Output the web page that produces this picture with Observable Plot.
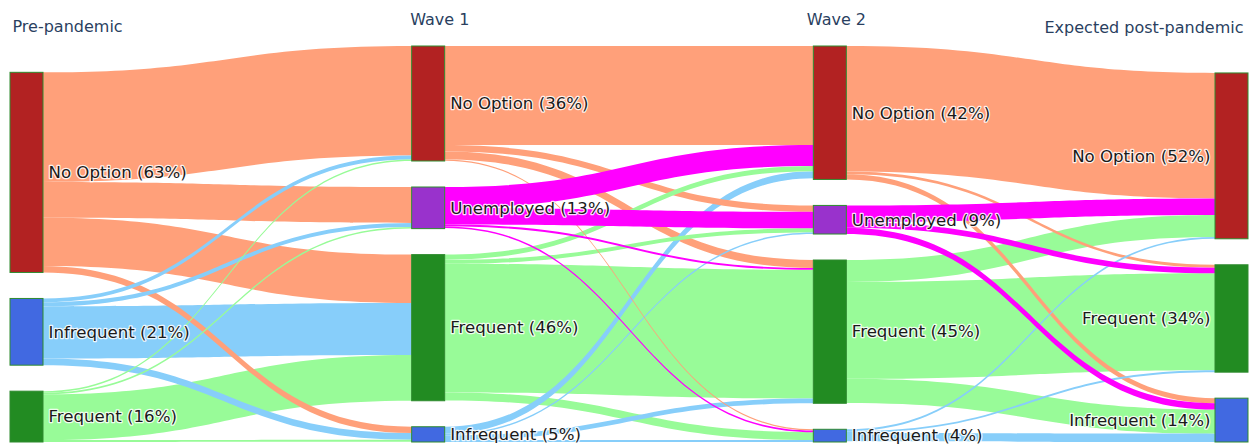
<!DOCTYPE html>
<html><head><meta charset="utf-8">
<script src="https://cdn.jsdelivr.net/npm/d3@7"></script>
<script src="https://cdn.jsdelivr.net/npm/@observablehq/plot@0.6"></script>
<style>body{margin:0;background:#fff;} svg{display:block}</style>
</head><body><div id="chart"></div>
<script>
// ---- data ----
const stages = ["Pre-pandemic", "Wave 1", "Wave 2", "Expected post-pandemic"];
const nodeStage = [0, 0, 0, 1, 1, 1, 1, 2, 2, 2, 2, 3, 3, 3];
const nodeCategory = ["No Option", "Infrequent", "Frequent",
  "No Option", "Unemployed", "Frequent", "Infrequent",
  "No Option", "Unemployed", "Frequent", "Infrequent",
  "No Option", "Frequent", "Infrequent"];
const nodePercent = [63, 21, 16, 36, 13, 46, 5, 42, 9, 45, 4, 52, 34, 14];

const linkSource = [0, 0, 0, 0, 1, 1, 1, 1, 2, 2, 2, 2,
  3, 3, 3, 3, 4, 4, 4, 4, 5, 5, 5, 5, 6, 6, 6, 6,
  7, 7, 7, 8, 8, 8, 9, 9, 9, 10, 10, 10];
const linkTarget = [3, 4, 5, 6, 3, 4, 5, 6, 3, 4, 5, 6,
  7, 8, 9, 10, 7, 8, 9, 10, 7, 8, 9, 10, 7, 8, 9, 10,
  11, 12, 13, 11, 12, 13, 11, 12, 13, 11, 12, 13];
const linkValue = [34.5, 11.3, 15.2, 2.0, 1.2, 1.3, 16.4, 2.1, 0.5, 0.5, 14.4, 0.6,
  31.2, 2.0, 2.5, 0.4, 6.6, 5.2, 0.6, 0.5, 1.6, 1.3, 40.5, 2.5, 2.2, 0.5, 1.5, 0.6,
  39.5, 0.9, 1.6, 5.2, 1.8, 2.0, 6.9, 30.5, 7.6, 0.6, 0.6, 2.6];

// ---- styles ----
const nodeColor = {"No Option": "#B22222", "Unemployed": "#9932CC", "Frequent": "#228B22", "Infrequent": "#4169E1"};
const linkColor = {"No Option": "#FFA07A", "Unemployed": "#FF00FF", "Frequent": "#98FB98", "Infrequent": "#87CEFA"};
const W = 1249, H = 445, mL = 10, mR = 1, mT = 46, mB = 3, nodePx = 33, gapPx = 26;
const innerW = W - mL - mR, innerH = H - mT - mB;
const nStages = stages.length;
const nodeW = nodePx * (nStages - 1) / (innerW - nodePx);

// ---- layout (in data units) ----
const nodes = nodeStage.map((s, i) => ({i, stage: s, cat: nodeCategory[i], pct: nodePercent[i], inV: 0, outV: 0, ins: [], outs: []}));
const links = linkSource.map((s, i) => ({i, s: nodes[s], t: nodes[linkTarget[i]], v: linkValue[i]}));
links.forEach(l => { l.s.outV += l.v; l.t.inV += l.v; l.s.outs.push(l); l.t.ins.push(l); });
nodes.forEach(n => n.value = Math.max(n.inV, n.outV));
const byStage = d3.groups(nodes, n => n.stage).map(g => g[1]);
const k = d3.min(byStage, col => (innerH - (col.length - 1) * gapPx) / d3.sum(col, n => n.value));
const gapU = gapPx / k;
const yTop = innerH / k;
byStage.forEach(col => {
  let cur = d3.sum(col, n => n.value) + gapU * (col.length - 1);
  col.forEach(n => { n.y1 = cur; n.y0 = cur - n.value; cur = n.y0 - gapU; n.x1 = n.stage; n.x2 = n.stage + nodeW; });
});
nodes.forEach(n => {
  let y = n.y1;
  n.outs.slice().sort((a, b) => b.t.y1 - a.t.y1).forEach(l => { l.sy1 = y; l.sy0 = y - l.v; y -= l.v; });
  y = n.y1;
  n.ins.slice().sort((a, b) => b.s.y1 - a.s.y1).forEach(l => { l.ty1 = y; l.ty0 = y - l.v; y -= l.v; });
});
const drawOrder = links.slice().sort((a, b) =>
  ((a.s.cat === "Unemployed") - (b.s.cat === "Unemployed")) || (b.v - a.v));
const linkPts = drawOrder.flatMap(l => [
  {id: l.i, cat: l.s.cat, x: l.s.x2, lo: l.sy0, hi: l.sy1},
  {id: l.i, cat: l.s.cat, x: l.t.x1, lo: l.ty0, hi: l.ty1}
]);
const lastStage = nStages - 1;
const labelText = n => `${n.cat} (${n.pct}%)`;
const labelFont = {fontFamily: "DejaVu Sans, Verdana, sans-serif", fontSize: 16.6};
const headFont = {fontFamily: "DejaVu Sans, Verdana, sans-serif", fontSize: 16};
const labelStyle = {lineAnchor: "middle", fill: "#1a1a1a", stroke: "white", strokeWidth: 2.5, strokeOpacity: 0.85, ...labelFont};
const headStyle = {text: d => d, frameAnchor: "top", lineAnchor: "middle", fill: "#2a3f5f", ...headFont};

const chart = Plot.plot({
  width: W, height: H,
  marginLeft: mL, marginRight: mR, marginTop: mT, marginBottom: mB,
  x: {domain: [0, lastStage + nodeW], axis: null},
  y: {domain: [0, yTop], axis: null},
  style: {background: "white", overflow: "visible"},
  marks: [
    Plot.area(linkPts, {x1: "x", y1: "lo", y2: "hi", z: "id", fill: d => linkColor[d.cat], curve: "bump-x"}),
    Plot.rect(nodes, {x1: "x1", x2: "x2", y1: "y0", y2: "y1", fill: d => nodeColor[d.cat], stroke: "#2e8b2e", strokeWidth: 1}),
    Plot.text(nodes.filter(n => n.stage < lastStage), {x: "x2", y: n => (n.y0 + n.y1) / 2, text: labelText, textAnchor: "start", dx: 5, ...labelStyle}),
    Plot.text(nodes.filter(n => n.stage === lastStage), {x: "x1", y: n => (n.y0 + n.y1) / 2, text: labelText, textAnchor: "end", dx: -5, ...labelStyle}),
    Plot.text(stages, {filter: (d, i) => i === 0, x: (d, i) => i, textAnchor: "start", dx: 2, dy: -20, ...headStyle}),
    Plot.text(stages, {filter: (d, i) => i === 1, x: (d, i) => i, textAnchor: "start", dx: -2, dy: -27, ...headStyle}),
    Plot.text(stages, {filter: (d, i) => i === 2, x: (d, i) => i, textAnchor: "start", dx: -7, dy: -27, ...headStyle}),
    Plot.text(stages, {filter: (d, i) => i === lastStage, x: (d, i) => i + nodeW, textAnchor: "end", dx: -5, dy: -19, ...headStyle})
  ]
});
document.getElementById("chart").appendChild(chart);
</script></body></html>
